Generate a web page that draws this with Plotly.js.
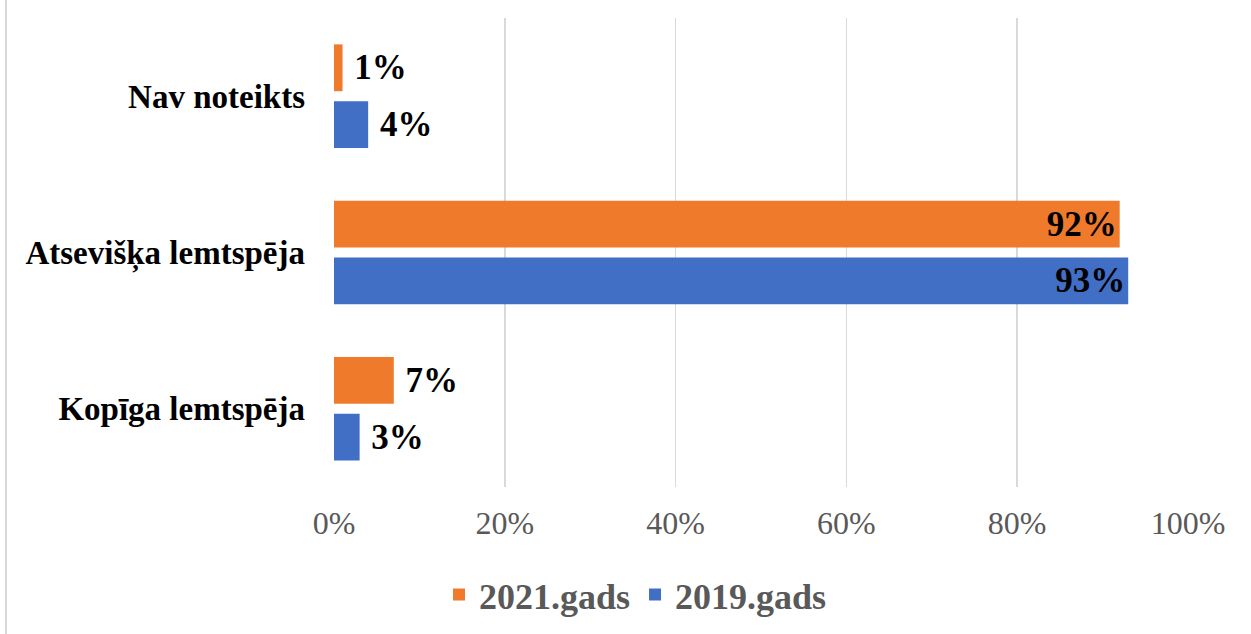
<!DOCTYPE html>
<html>
<head>
<meta charset="utf-8">
<script src="https://cdn.plot.ly/plotly-3.0.1.min.js"></script>
<style>
  html, body { margin: 0; padding: 0; background: #fff; }
  #wrap { position: relative; width: 1251px; height: 634px; }
  #edge { position: absolute; left: 5px; top: 0; width: 2px; height: 634px; background: #d9d9d9; }
  #chart { position: absolute; left: 0; top: 0; width: 1251px; height: 634px; }
</style>
</head>
<body>
<div id="wrap"><div id="chart"></div><div id="edge"></div></div>
<script>
const categories = ["Kopīga lemtspēja", "Atsevišķa lemtspēja", "Nav noteikts"];
const values2019 = [3, 93, 4];
const values2021 = [7, 92, 1];
const tickVals = [0, 20, 40, 60, 80, 100];
const tickText = ["0%", "20%", "40%", "60%", "80%", "100%"];
const seriesNames = ["2019.gads", "2021.gads"];

const serif = "Liberation Serif, Times New Roman, serif";
function positions(v) { return v.map(x => x > 50 ? "inside" : "outside"); }
function templates(v) { return v.map(x => x > 50 ? "<b>%{x}%</b>" : "\u00a0<b>%{x}%</b>"); }

function makeTrace(name, vals, color) {
  return {
    type: "bar", orientation: "h", name: name,
    y: categories, x: vals,
    marker: { color: color, line: { width: 0 } },
    textposition: positions(vals),
    texttemplate: templates(vals),
    insidetextanchor: "end",
    textfont: { family: serif, size: 35, color: "#000" },
    insidetextfont: { family: serif, size: 35, color: "#000" },
    outsidetextfont: { family: serif, size: 35, color: "#000" },
    constraintext: "none",
    cliponaxis: false, hoverinfo: "none"
  };
}

const traces = [
  makeTrace(seriesNames[0], values2019, "#416FC6"),
  makeTrace(seriesNames[1], values2021, "#EF7A2B")
];

const layout = {
  width: 1251, height: 634,
  margin: { l: 334, r: 63, t: 18, b: 147 },
  paper_bgcolor: "#fff", plot_bgcolor: "#fff",
  barmode: "group", bargap: 0.274, bargroupgap: 0.175,
  font: { family: serif },
  xaxis: {
    range: [0, 100], tickvals: tickVals, ticktext: tickText,
    showgrid: true, gridcolor: "#d9d9d9", gridwidth: 1.5,
    zeroline: false, showline: false, ticks: "",
    tickfont: { family: serif, size: 32, color: "#595959" },
    ticklabelstandoff: 14
  },
  yaxis: {
    type: "category", categoryorder: "array", categoryarray: categories,
    showgrid: false, zeroline: false, showline: false, ticks: "",
    tickfont: { family: serif, size: 33, color: "#000", weight: "bold" },
    ticklabelstandoff: 28
  },
  showlegend: true,
  legend: {
    orientation: "h", traceorder: "reversed",
    xref: "container", yref: "container",
    x: 0.508, xanchor: "center", y: 0.062, yanchor: "middle",
    font: { family: serif, size: 36, color: "#595959", weight: "bold" },
    itemwidth: 30, itemsizing: "constant"
  }
};

Plotly.newPlot("chart", traces, layout, { staticPlot: true, displayModeBar: false });
</script>
</body>
</html>
